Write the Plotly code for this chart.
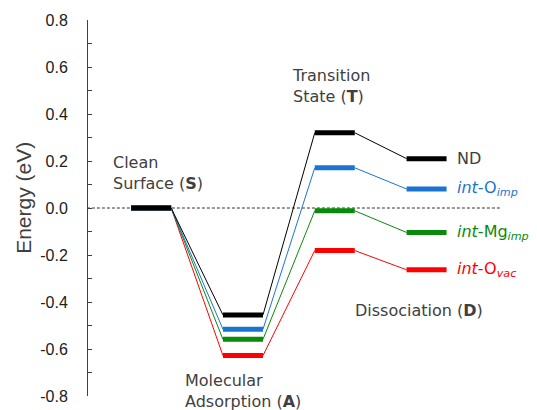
import plotly.graph_objects as go

# Reaction stages along the pathway (x positions 0..3)
stages = [0, 1, 2, 3]

# Relative energies (eV) for each surface model
e_nd = [0.0, -0.455, 0.320, 0.210]
e_oimp = [0.0, -0.516, 0.171, 0.081]
e_mgimp = [0.0, -0.559, -0.012, -0.104]
e_ovac = [0.0, -0.628, -0.181, -0.263]

series_names = ["ND", "int-O<sub>imp</sub>", "int-Mg<sub>imp</sub>", "int-O<sub>vac</sub>"]
series_labels = [
    "ND",
    "<i>int</i>-O<sub><i>imp</i></sub>",
    "<i>int</i>-Mg<sub><i>imp</i></sub>",
    "<i>int</i>-O<sub><i>vac</i></sub>",
]
series_colors = ["#000000", "#1a75d0", "#0a8a0a", "#ff0000"]
series_values = [e_nd, e_oimp, e_mgimp, e_ovac]

# Y-axis ticks: labelled majors and unlabelled minors
major_vals = [-0.8, -0.6, -0.4, -0.2, 0.0, 0.2, 0.4, 0.6, 0.8]
major_text = ["-0.8", "-0.6", "-0.4", "-0.2", "0.0", "0.2", "0.4", "0.6", "0.8"]
minor_vals = [-0.7, -0.5, -0.3, -0.1, 0.1, 0.3, 0.5, 0.7]

HALF = 0.218  # half width of a level bar in stage units
TEXT_FONT = "DejaVu Sans"
TEXT_COLOR = "#404040"

fig = go.Figure()

# zero reference line
fig.add_trace(go.Scatter(
    x=[-0.7, 3.80], y=[0, 0], mode="lines",
    line=dict(color="#333333", width=1, dash="3px,2px"),
    hoverinfo="skip", showlegend=False,
))

# thin connectors between consecutive levels (drawn bottom-most series first)
for vals, color in reversed(list(zip(series_values, series_colors))):
    xs, ys = [], []
    for i in range(len(stages) - 1):
        xs += [stages[i] + HALF, stages[i + 1] - HALF, None]
        ys += [vals[i], vals[i + 1], None]
    fig.add_trace(go.Scatter(
        x=xs, y=ys, mode="lines", line=dict(color=color, width=1),
        hoverinfo="skip", showlegend=False,
    ))

# thick energy levels
for vals, color, name in reversed(list(zip(series_values, series_colors, series_names))):
    xs, ys = [], []
    for s, v in zip(stages, vals):
        xs += [s - HALF, s + HALF, None]
        ys += [v, v, None]
    fig.add_trace(go.Scatter(
        x=xs, y=ys, mode="lines", line=dict(color=color, width=5),
        name=name, showlegend=False,
    ))

annotations = []

# stage captions
stage_captions = [
    ("Clean<br>Surface (<b>S</b>)", -0.438, 0.150),
    ("Molecular<br>Adsorption (<b>A</b>)", 0.343, -0.779),
    ("Transition<br>State (<b>T</b>)", 1.512, 0.519),
    ("Dissociation (<b>D</b>)", 2.198, -0.438),
]
for text, x, y in stage_captions:
    annotations.append(dict(
        x=x, y=y, xref="x", yref="y", text=text, showarrow=False,
        xanchor="left", yanchor="middle", align="left",
        font=dict(family=TEXT_FONT, size=16, color=TEXT_COLOR),
    ))

# series labels next to the dissociation levels
for vals, color, label in zip(series_values, series_colors, series_labels):
    annotations.append(dict(
        x=stages[-1] + HALF + 0.09, y=vals[-1], xref="x", yref="y",
        text=label, showarrow=False, xanchor="left", yanchor="middle",
        font=dict(family=TEXT_FONT, size=16,
                  color=TEXT_COLOR if color == "#000000" else color),
    ))

# y-axis title
annotations.append(dict(
    x=-0.1425, y=0.527, xref="paper", yref="paper", text="Energy (eV)",
    showarrow=False, textangle=-90, xanchor="center", yanchor="middle",
    font=dict(family="Liberation Sans", size=21, color=TEXT_COLOR),
))

fig.update_layout(
    width=537, height=410,
    margin=dict(l=88, r=0, t=20, b=14),
    paper_bgcolor="white", plot_bgcolor="white",
    showlegend=False,
    annotations=annotations,
    xaxis=dict(range=[-0.688, 4.203], visible=False, fixedrange=True),
    yaxis=dict(
        range=[-0.8, 0.8], tickmode="array", tickvals=major_vals, ticktext=major_text,
        ticks="inside", ticklen=4, tickcolor="#404040", tickwidth=1,
        minor=dict(tickmode="array", tickvals=minor_vals, ticks="inside",
                   ticklen=4, tickcolor="#404040", tickwidth=1, showgrid=False),
        showline=True, linecolor="#404040", linewidth=1,
        showgrid=False, zeroline=False, ticklabelstandoff=16,
        tickfont=dict(family="Liberation Sans", size=16, color="#202020"),
        fixedrange=True,
    ),
)

fig.write_html("out.html")
